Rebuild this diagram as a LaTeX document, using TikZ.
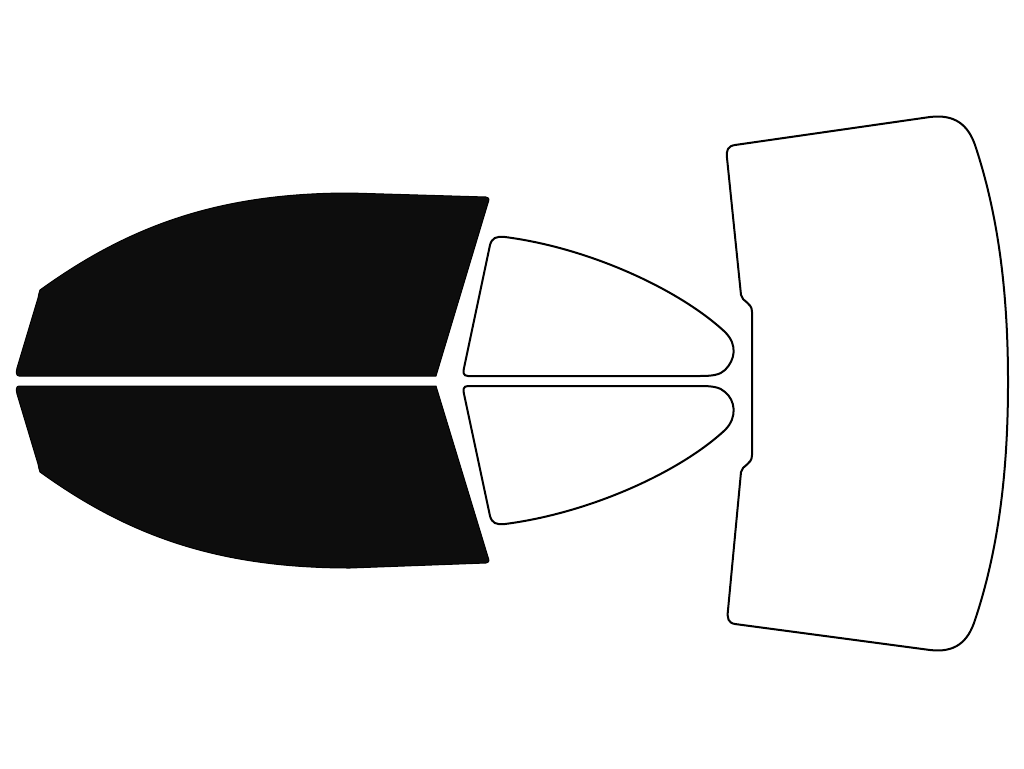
\documentclass[tikz,border=0pt]{standalone}
\begin{document}
\begin{tikzpicture}[x=1pt,y=-1pt,
  dark/.style={fill=black!95,draw=black,line width=1pt,line join=round},
  pane/.style={fill=white,draw=black,line width=2pt,line join=round}]
\useasboundingbox (0,0) rectangle (1024,768);
% front top
\draw[dark] (40,290) .. controls (130,225) and (220,193) .. (350,193) -- (486,197) .. controls (490,198) and (489,200) .. (488,203) -- (436,376) -- (19,376) .. controls (16,376) and (16,372) .. (17,368) -- (38,298) .. controls (39,294) and (39,292) .. (40,290) -- cycle;
% front bottom
\draw[dark] (40,472) .. controls (130,537) and (220,568) .. (350,568) -- (486,563) .. controls (490,562) and (489,560) .. (488,557) -- (436,386) -- (19,386) .. controls (16,386) and (16,390) .. (17,394) -- (38,464) .. controls (39,468) and (39,470) .. (40,472) -- cycle;
% rear door top
\draw[pane] (490,245) .. controls (492,238) and (496,236) .. (505,237) .. controls (590,248) and (680,290) .. (725,332) .. controls (738,345) and (735,360) .. (725,370) .. controls (720,375) and (712,376) .. (700,376) -- (468,376) .. controls (463,376) and (463,372) .. (464,368) -- cycle;
% rear door bottom
\draw[pane] (490,516) .. controls (492,523) and (496,525) .. (505,524) .. controls (590,513) and (680,472) .. (725,430) .. controls (738,417) and (735,400) .. (725,392) .. controls (720,387) and (712,386) .. (700,386) -- (468,386) .. controls (463,386) and (463,390) .. (464,394) -- cycle;
% rear window
\draw[pane] (735,145) -- (930,117) .. controls (955,114) and (968,125) .. (975,145) .. controls (1000,220) and (1008,300) .. (1008,382) .. controls (1008,465) and (1000,545) .. (975,620) .. controls (968,642) and (955,653) .. (930,650) -- (735,624) .. controls (728,623) and (727,618) .. (728,610) -- (741,472) .. controls (742,465) and (752,465) .. (752,455) -- (752,312) .. controls (752,302) and (742,302) .. (741,295) -- (727,158) .. controls (726,150) and (728,146) .. (735,145) -- cycle;
\end{tikzpicture}
\end{document}
